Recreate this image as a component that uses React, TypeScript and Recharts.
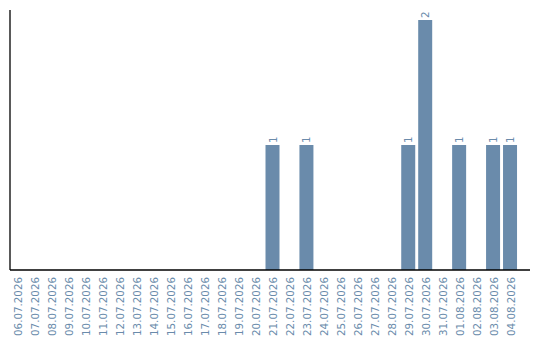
import React from "react";
import { BarChart, Bar, XAxis, YAxis, LabelList } from "recharts";

const dates = [
  "06.07.2026", "07.07.2026", "08.07.2026", "09.07.2026", "10.07.2026",
  "11.07.2026", "12.07.2026", "13.07.2026", "14.07.2026", "15.07.2026",
  "16.07.2026", "17.07.2026", "18.07.2026", "19.07.2026", "20.07.2026",
  "21.07.2026", "22.07.2026", "23.07.2026", "24.07.2026", "25.07.2026",
  "26.07.2026", "27.07.2026", "28.07.2026", "29.07.2026", "30.07.2026",
  "31.07.2026", "01.08.2026", "02.08.2026", "03.08.2026", "04.08.2026",
];

const counts = [
  0, 0, 0, 0, 0,
  0, 0, 0, 0, 0,
  0, 0, 0, 0, 0,
  1, 0, 1, 0, 0,
  0, 0, 0, 1, 2,
  0, 1, 0, 1, 1,
];

const data = dates.map((date, i) => ({ date, count: counts[i] }));

const BLUE = "#6a8bab";
const FONT = "DejaVu Sans, sans-serif";

const DateTick = (props: any) => {
  const { x, payload, viewBox } = props;
  // axis line sits at the top of the x-axis box
  const top = (viewBox && viewBox.y != null ? viewBox.y : props.y - 8) + 7;
  return (
    <text
      x={x}
      y={top}
      transform={`rotate(-90, ${x}, ${top})`}
      textAnchor="end"
      dominantBaseline="central"
      fontSize={10.3}
      fontFamily={FONT}
      fill={BLUE}
    >
      {payload.value}
    </text>
  );
};

const ValueLabel = (props: any) => {
  const { x, y, width, value } = props;
  if (!value) return null;
  const cx = x + width / 2;
  const cy = y - 2;
  return (
    <text
      x={cx}
      y={cy}
      transform={`rotate(-90, ${cx}, ${cy})`}
      textAnchor="start"
      dominantBaseline="central"
      fontSize={10.3}
      fontFamily={FONT}
      fill={BLUE}
    >
      {value}
    </text>
  );
};

export default function App() {
  return (
    <BarChart
      width={532}
      height={332}
      data={data}
      margin={{ top: 2, right: 10, bottom: 0, left: 1 }}
    >
      <XAxis
        dataKey="date"
        interval={0}
        height={70}
        tickLine={false}
        axisLine={{ stroke: "#000", strokeWidth: 1.3 }}
        padding={{ left: 0, right: 11 }}
        tick={<DateTick />}
      />
      <YAxis
        width={1}
        domain={[0, 2.08]}
        tick={false}
        tickLine={false}
        axisLine={{ stroke: "#000", strokeWidth: 1.3 }}
      />
      <Bar dataKey="count" fill={BLUE} barSize={14} isAnimationActive={false}>
        <LabelList dataKey="count" content={<ValueLabel />} />
      </Bar>
    </BarChart>
  );
}
